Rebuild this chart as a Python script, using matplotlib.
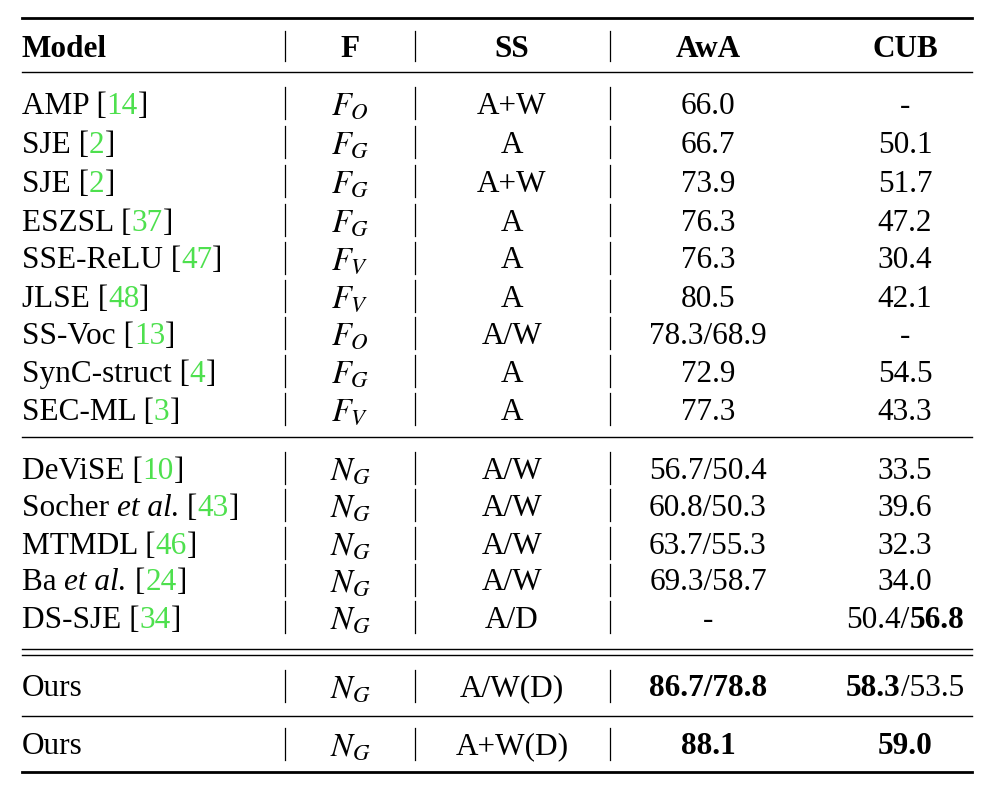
import re
import matplotlib
matplotlib.use("Agg")
import matplotlib.pyplot as plt

plt.rcParams['font.family'] = 'Liberation Serif'
plt.rcParams['mathtext.fontset'] = 'stix'

# {..} = citation (green), *..* = italic, **..** = bold
models = ['AMP [{14}]', 'SJE [{2}]', 'SJE [{2}]', 'ESZSL [{37}]', 'SSE-ReLU [{47}]',
          'JLSE [{48}]', 'SS-Voc [{13}]', 'SynC-struct [{4}]', 'SEC-ML [{3}]',
          'DeViSE [{10}]', 'Socher *et al.* [{43}]', 'MTMDL [{46}]', 'Ba *et al.* [{24}]',
          'DS-SJE [{34}]', 'Ours', 'Ours']
feats = ['O', 'G', 'G', 'G', 'V', 'V', 'O', 'G', 'V',
         'NG', 'NG', 'NG', 'NG', 'NG', 'NG', 'NG']
ss = ['A+W', 'A', 'A+W', 'A', 'A', 'A', 'A/W', 'A', 'A',
      'A/W', 'A/W', 'A/W', 'A/W', 'A/D', 'A/W(D)', 'A+W(D)']
awa = ['66.0', '66.7', '73.9', '76.3', '76.3', '80.5', '78.3/68.9', '72.9', '77.3',
       '56.7/50.4', '60.8/50.3', '63.7/55.3', '69.3/58.7', '-', '**86.7/78.8**', '**88.1**']
cub = ['-', '50.1', '51.7', '47.2', '30.4', '42.1', '-', '54.5', '43.3',
       '33.5', '39.6', '32.3', '34.0', '50.4/**56.8**', '**58.3**/53.5', '**59.0**']
headers = ['Model', 'F', 'SS', 'AwA', 'CUB']

row_y = [103, 142, 181, 220, 258, 296, 333, 371, 409,
         468, 505, 543, 580, 617, 686, 744]
col_x = [22, 350, 512, 708, 905]
bar_x = [285, 415, 610]
FS = 22.5
DY = 3
GREEN = '#4ee04e'

fig = plt.figure(figsize=(10.02, 7.88), dpi=100)
ax = fig.add_axes([0, 0, 1, 1])
ax.set_xlim(0, 1002)
ax.set_ylim(788, 0)
ax.axis('off')
fig.canvas.draw()
renderer = fig.canvas.get_renderer()


def parse(s):
    out = []
    for m in re.finditer(r'\*\*(.+?)\*\*|\*(.+?)\*|\{(.+?)\}|([^*{]+)', s):
        if m.group(1):
            out.append((m.group(1), dict(weight='bold')))
        elif m.group(2):
            out.append((m.group(2), dict(style='italic')))
        elif m.group(3):
            out.append((m.group(3), dict(color=GREEN)))
        else:
            out.append((m.group(4), {}))
    return out


def rich(x, y, s, ha='left', **kw):
    texts = []
    cx = x
    for txt, st in parse(s):
        opts = dict(fontsize=FS, va='center', ha='left', color='black')
        opts.update(kw)
        opts.update(st)
        t = ax.text(cx, y + DY, txt, **opts)
        w = t.get_window_extent(renderer).width
        texts.append(t)
        cx += w
    if ha == 'center':
        shift = (cx - x) / 2
        for t in texts:
            t.set_x(t.get_position()[0] - shift)


# header
rich(col_x[0], 46, headers[0], weight='bold')
for x, h in zip(col_x[1:], headers[1:]):
    rich(x, 46, h, ha='center', weight='bold')

for i, y in enumerate(row_y):
    rich(col_x[0], y, models[i])
    f = feats[i]
    lab = '$N_G$' if f == 'NG' else '$F_%s$' % f
    ax.text(col_x[1], y + DY, lab, fontsize=FS + 1, ha='center', va='center')
    rich(col_x[2], y, ss[i], ha='center')
    rich(col_x[3], y, awa[i], ha='center')
    rich(col_x[4], y, cub[i], ha='center')
    for bx in bar_x:
        ax.plot([bx, bx], [y - 16, y + 16], color='black', lw=0.9)
for bx in bar_x:
    ax.plot([bx, bx], [31, 61], color='black', lw=0.9)

# rules
L, R = 22, 972
ax.plot([L, R], [18, 18], color='black', lw=2)
ax.plot([L, R], [72, 72], color='black', lw=1)
ax.plot([L, R], [437, 437], color='black', lw=1)
ax.plot([L, R], [649, 649], color='black', lw=1)
ax.plot([L, R], [655, 655], color='black', lw=1)
ax.plot([L, R], [716, 716], color='black', lw=1)
ax.plot([L, R], [772, 772], color='black', lw=2)

fig.savefig('out.png', dpi=100)
